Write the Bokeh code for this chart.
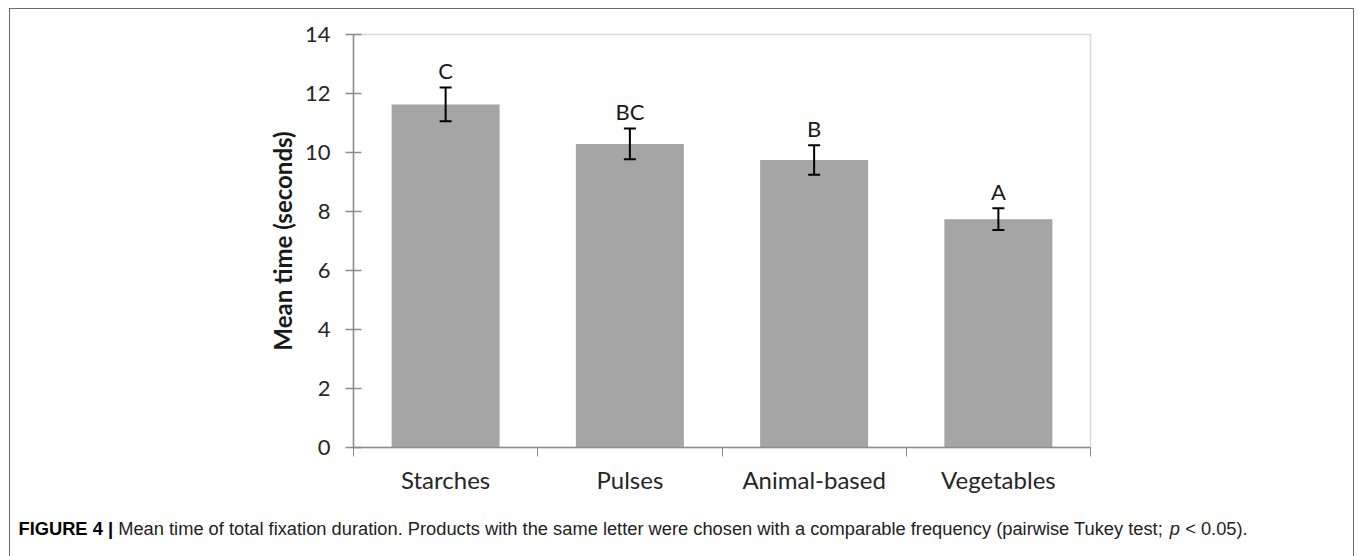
from bokeh.plotting import figure
from bokeh.models import Range1d, FixedTicker, Whisker, TeeHead, ColumnDataSource, Label, InlineStyleSheet
from bokeh.core.properties import value
from bokeh.embed import file_html
from bokeh.resources import INLINE

# ---- data ----
categories = ["Starches", "Pulses", "Animal-based", "Vegetables"]
mean_time = [11.63, 10.29, 9.75, 7.74]
std_err = [0.57, 0.52, 0.50, 0.37]
letters = ["C", "BC", "B", "A"]
y_ticks = [0, 2, 4, 6, 8, 10, 12, 14]
y_label = "Mean time (seconds)"
caption_bold = "FIGURE 4 |"
caption_text = ("Mean time of total fixation duration. Products with the same letter were "
                "chosen with a comparable frequency (pairwise Tukey test;")
caption_italic = "p"
caption_end = "< 0.05)."

# ---- layout ----
W, H = 1358, 556
FL, FR, FT, FB = 353, 1090, 34, 447   # frame edges on the page
n = len(categories)
xs = [2 * i + 1 for i in range(n)]
upper = [m + e for m, e in zip(mean_time, std_err)]
lower = [m - e for m, e in zip(mean_time, std_err)]
YMAX = 14
px_x = (FR - FL) / (2 * n)
px_y = (FB - FT) / YMAX

p = figure(width=W, height=H, x_range=Range1d(0, 2 * n), y_range=Range1d(0, YMAX),
           output_backend="svg", toolbar_location=None,
           min_border_left=FL, min_border_right=W - FR, min_border_top=FT, min_border_bottom=H - FB)
p.xgrid.visible = False
p.ygrid.visible = False
p.outline_line_color = "#d9d9d9"
p.outline_line_width = 1.5
p.background_fill_color = "white"
p.border_fill_color = "white"

AX = "#8c8c8c"
TXT = "#262626"

xa = p.xaxis[0]
xa.ticker = FixedTicker(ticks=xs, minor_ticks=list(range(0, 2 * n + 1, 2)))
xa.major_label_overrides = {x: c for x, c in zip(xs, categories)}
xa.major_tick_line_color = None
xa.major_tick_in = 0
xa.major_tick_out = 0
xa.minor_tick_line_color = AX
xa.minor_tick_in = 0
xa.minor_tick_out = 9
xa.axis_line_color = AX
xa.axis_line_width = 1.5
xa.major_label_text_font = "Lato"
xa.major_label_text_font_size = "24px"
xa.major_label_text_color = TXT
xa.major_label_standoff = 8

ya = p.yaxis[0]
ya.ticker = FixedTicker(ticks=y_ticks)
ya.major_tick_in = 8
ya.major_tick_out = 8
ya.major_tick_line_color = AX
ya.major_tick_line_width = 1.5
ya.minor_tick_line_color = None
ya.axis_line_color = AX
ya.axis_line_width = 1.5
ya.major_label_standoff = 15
ya.major_label_text_font = "Lato"
ya.major_label_text_font_size = "22px"
ya.major_label_text_color = TXT
ya.axis_label = y_label
ya.axis_label_text_font = "Lato"
ya.axis_label_text_font_style = "bold"
ya.axis_label_text_font_size = "24px"
ya.axis_label_text_color = "#1a1a1a"
ya.axis_label_standoff = 5

letter_y = [u + 17 / px_y for u in upper]
src = ColumnDataSource(dict(x=xs, top=mean_time, upper=upper, lower=lower,
                            letters=letters, ly=letter_y))

p.vbar(x="x", top="top", bottom=0, width=108 / px_x, source=src,
       fill_color="#a5a5a5", line_color=None)

wh = Whisker(source=src, base="x", upper="upper", lower="lower",
             line_color="black", line_width=2, level="overlay",
             upper_head=TeeHead(size=12, line_color="black", line_width=2),
             lower_head=TeeHead(size=12, line_color="black", line_width=2))
p.add_layout(wh)

p.text(x="x", y="ly", text="letters", source=src,
       text_font=value("Lato"), text_font_size="22px", text_color="#1a1a1a",
       text_align="center", text_baseline="middle")

# ---- caption (Arial / Liberation Sans metrics for placement) ----
reg_w = {' ': 278, '(': 333, ')': 333, ';': 278, '.': 278, '<': 584, '|': 260, '-': 333,
         'a': 556, 'b': 556, 'c': 500, 'd': 556, 'e': 556, 'f': 278, 'g': 556, 'h': 556,
         'i': 222, 'j': 222, 'k': 500, 'l': 222, 'm': 833, 'n': 556, 'o': 556, 'p': 556,
         'q': 556, 'r': 333, 's': 500, 't': 278, 'u': 556, 'v': 500, 'w': 722, 'x': 500,
         'y': 500, 'z': 500, 'M': 833, 'P': 667, 'T': 611}
bold_w = {'F': 611, 'I': 278, 'G': 778, 'U': 722, 'R': 722, 'E': 667, ' ': 278, '4': 556, '|': 280}


def tw(s, table, size):
    return sum(table.get(ch, 556) for ch in s) * size / 1000.0


CAP_SIZE = 18.3
SPACE = 278 * CAP_SIZE / 1000.0
cap_x_px = 18
cap_mid_px = 528
# (text, style, width table, colour, side panel that holds it)
parts = [(caption_bold, "bold", bold_w, "#000000", "right"),
         (caption_text, "normal", reg_w, "#222222", "below"),
         (caption_italic, "italic", reg_w, "#222222", "right"),
         (caption_end, "normal", reg_w, "#222222", "right")]
x_cur = cap_x_px
for txt, style, table, col, side in parts:
    p.add_layout(Label(x=(x_cur - FL) / px_x, y=(FB - cap_mid_px) / px_y, text=txt,
                       text_font="Liberation Sans", text_font_size=f"{CAP_SIZE}px",
                       text_font_style=style, text_color=col, text_baseline="middle"),
                 side)
    x_cur += tw(txt, table, CAP_SIZE) + SPACE

p.stylesheets = [InlineStyleSheet(css=(
    ":host{position:relative;}"
    ":host::after{content:'';position:absolute;left:9px;top:8px;right:4px;bottom:0;"
    "border:1px solid #6b6b6b;border-bottom:none;pointer-events:none;box-sizing:border-box;}"))]

open("out.html", "w").write(file_html(p, INLINE))
